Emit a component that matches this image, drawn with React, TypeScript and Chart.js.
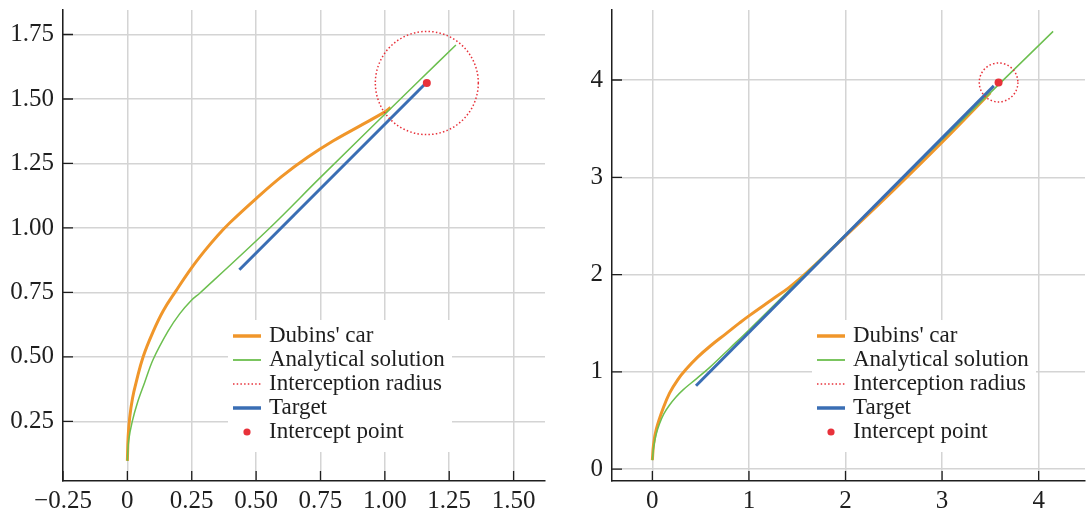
import React, { useEffect, useRef } from 'react';
import { Chart, registerables } from 'chart.js';

Chart.register(...registerables);

// ---------- Left panel data ----------
const leftDubinsX = [0, 0.003, 0.009, 0.02, 0.035, 0.061, 0.1, 0.14, 0.19, 0.25, 0.3, 0.35, 0.4, 0.5, 0.6, 0.7, 0.8, 0.9, 1.0, 1.022];
const leftDubinsY = [0.097, 0.19, 0.265, 0.34, 0.405, 0.5, 0.598, 0.68, 0.758, 0.846, 0.911, 0.97, 1.022, 1.114, 1.2, 1.274, 1.338, 1.394, 1.45, 1.467];
const leftAnalyticX = [0, 0.005, 0.019, 0.04, 0.065, 0.1, 0.158, 0.203, 0.248, 0.282, 0.553, 0.75, 1.133, 1.276];
const leftAnalyticY = [0.097, 0.175, 0.25, 0.325, 0.395, 0.49, 0.6, 0.667, 0.719, 0.748, 1.0, 1.196, 1.571, 1.709];
const leftTargetX = [0.435, 1.158];
const leftTargetY = [0.838, 1.56];
const leftInterceptX = [1.163];
const leftInterceptY = [1.562];
const leftRadius = [0.2];
const leftXTicks = [-0.25, 0, 0.25, 0.5, 0.75, 1.0, 1.25, 1.5];
const leftXLabels = ['\u22120.25', '0', '0.25', '0.50', '0.75', '1.00', '1.25', '1.50'];
const leftYTicks = [0.25, 0.5, 0.75, 1.0, 1.25, 1.5, 1.75];
const leftYLabels = ['0.25', '0.50', '0.75', '1.00', '1.25', '1.50', '1.75'];

// ---------- Right panel data ----------
const rightDubinsX = [0, 0.012, 0.041, 0.11, 0.178, 0.264, 0.349, 0.469, 0.606, 0.76, 0.9, 1.0, 1.24, 1.411, 1.548, 1.685, 1.822, 1.993, 2.5, 3.0, 3.5];
const rightDubinsY = [0.092, 0.25, 0.41, 0.62, 0.78, 0.92, 1.025, 1.15, 1.27, 1.39, 1.5, 1.575, 1.743, 1.863, 1.975, 2.1, 2.23, 2.39, 2.87, 3.36, 3.87];
const rightAnalyticX = [0, 0.014, 0.04, 0.075, 0.12, 0.178, 0.245, 0.315, 0.452, 0.6, 0.8, 1.0, 2.0, 3.0, 4.15];
const rightAnalyticY = [0.09, 0.23, 0.36, 0.469, 0.57, 0.658, 0.74, 0.812, 0.925, 1.05, 1.24, 1.43, 2.41, 3.385, 4.5];
const rightTargetX = [0.452, 3.536];
const rightTargetY = [0.856, 3.94];
const rightInterceptX = [3.585];
const rightInterceptY = [3.975];
const rightRadius = [0.2];
const rightXTicks = [0, 1, 2, 3, 4];
const rightXLabels = ['0', '1', '2', '3', '4'];
const rightYTicks = [0, 1, 2, 3, 4];
const rightYLabels = ['0', '1', '2', '3', '4'];

const legendLabels = ["Dubins' car", 'Analytical solution', 'Interception radius', 'Target', 'Intercept point'];

// ---------- Styles ----------
const ORANGE = '#f0962a';
const GREEN = '#6cbf4f';
const BLUE = '#3a6eb4';
const RED = '#e8313a';
const GRID = '#d4d4d4';
const INK = '#1e1e1e';
const SERIF = "'Liberation Serif', 'Times New Roman', serif";

const pts = (xs: number[], ys: number[]) => xs.map((x, i) => ({ x, y: ys[i] }));

const circlePlugin = {
  id: 'interceptCircle',
  afterDatasetsDraw(chart: any, _args: any, opts: any) {
    const { ctx, chartArea } = chart;
    const xs = chart.scales.x;
    const ys = chart.scales.y;
    const cx = xs.getPixelForValue(opts.cx);
    const cy = ys.getPixelForValue(opts.cy);
    const rx = Math.abs(xs.getPixelForValue(opts.cx + opts.r) - cx);
    const ry = Math.abs(ys.getPixelForValue(opts.cy + opts.r) - cy);
    ctx.save();
    ctx.beginPath();
    ctx.rect(chartArea.left, chartArea.top, chartArea.right - chartArea.left, chartArea.bottom - chartArea.top);
    ctx.clip();
    ctx.beginPath();
    ctx.ellipse(cx, cy, rx, ry, 0, 0, Math.PI * 2);
    ctx.strokeStyle = RED;
    ctx.lineWidth = 1.5;
    ctx.setLineDash([1.5, 2.2]);
    ctx.stroke();
    ctx.restore();
  },
};

const inwardTicksPlugin = {
  id: 'inwardTicks',
  afterDatasetsDraw(chart: any) {
    const { ctx, chartArea } = chart;
    const xs = chart.scales.x;
    const ys = chart.scales.y;
    ctx.save();
    ctx.strokeStyle = INK;
    ctx.lineWidth = 1.3;
    ctx.beginPath();
    xs.ticks.forEach((t: any) => {
      const p = xs.getPixelForValue(t.value);
      ctx.moveTo(p, chartArea.bottom);
      ctx.lineTo(p, chartArea.bottom - 10);
    });
    ys.ticks.forEach((t: any) => {
      const p = ys.getPixelForValue(t.value);
      ctx.moveTo(chartArea.left, p);
      ctx.lineTo(chartArea.left + 10, p);
    });
    ctx.stroke();
    ctx.restore();
  },
};

const boxLegendPlugin = {
  id: 'boxLegend',
  afterDraw(chart: any, _args: any, opts: any) {
    const { ctx } = chart;
    const { x, y, w, h, row } = opts;
    ctx.save();
    ctx.fillStyle = '#ffffff';
    ctx.fillRect(x, y, w, h);
    chart.data.datasets.forEach((ds: any, i: number) => {
      const cy = y + 16 + i * row;
      if (ds.legendKind === 'dot') {
        ctx.beginPath();
        ctx.arc(x + 19, cy, 3.6, 0, Math.PI * 2);
        ctx.fillStyle = ds.backgroundColor;
        ctx.fill();
      } else {
        ctx.beginPath();
        ctx.setLineDash(ds.legendDash || []);
        ctx.moveTo(x + 5, cy);
        ctx.lineTo(x + 33, cy);
        ctx.strokeStyle = ds.borderColor;
        ctx.lineWidth = ds.legendWidth;
        ctx.stroke();
        ctx.setLineDash([]);
      }
      ctx.fillStyle = INK;
      ctx.font = `23px ${SERIF}`;
      ctx.textAlign = 'left';
      ctx.textBaseline = 'middle';
      ctx.fillText(ds.label, x + 41, cy);
    });
    ctx.restore();
  },
};

type PanelSpec = {
  dubinsX: number[]; dubinsY: number[];
  analyticX: number[]; analyticY: number[];
  targetX: number[]; targetY: number[];
  interceptX: number[]; interceptY: number[];
  radius: number[];
  xMin: number; xMax: number; yMin: number; yMax: number;
  xTicks: number[]; xLabels: string[]; yTicks: number[]; yLabels: string[];
  yAxisWidth: number; padRight: number; legendX: number;
};

function makeConfig(p: PanelSpec): any {
  const datasets: any[] = [
    {
      type: 'line', label: legendLabels[0], data: pts(p.dubinsX, p.dubinsY),
      borderColor: ORANGE, borderWidth: 3, legendWidth: 3.5, pointRadius: 0,
      tension: 0.4, fill: false, order: 5,
    },
    {
      type: 'line', label: legendLabels[1], data: pts(p.analyticX, p.analyticY),
      borderColor: GREEN, borderWidth: 1.5, legendWidth: 1.8, pointRadius: 0,
      tension: 0.35, fill: false, order: 4,
    },
    {
      type: 'line', label: legendLabels[2], data: [],
      borderColor: RED, borderWidth: 1.5, legendWidth: 1.5, legendDash: [1.5, 2.2], pointRadius: 0, order: 3,
    },
    {
      type: 'line', label: legendLabels[3], data: pts(p.targetX, p.targetY),
      borderColor: BLUE, borderWidth: 3, legendWidth: 3.5, pointRadius: 0, fill: false, order: 2,
    },
    {
      type: 'scatter', label: legendLabels[4], data: pts(p.interceptX, p.interceptY),
      backgroundColor: RED, borderColor: RED, borderWidth: 0, pointRadius: 4, legendKind: 'dot', order: 1,
    },
  ];
  const tickFont = { family: SERIF, size: 25 };
  return {
    type: 'line',
    data: { datasets },
    options: {
      responsive: false,
      animation: false,
      events: [],
      layout: { padding: { top: 10, right: p.padRight, left: 0, bottom: 0 } },
      plugins: {
        legend: { display: false },
        tooltip: { enabled: false },
        interceptCircle: { cx: p.interceptX[0], cy: p.interceptY[0], r: p.radius[0] },
        boxLegend: { x: p.legendX, y: 320, w: 224, h: 132, row: 24 },
      },
      scales: {
        x: {
          type: 'linear', min: p.xMin, max: p.xMax,
          afterBuildTicks: (s: any) => { s.ticks = p.xTicks.map((v) => ({ value: v })); },
          afterFit: (s: any) => { s.height = 37; s.paddingLeft = 0; s.paddingRight = 0; },
          ticks: {
            autoSkip: false, maxRotation: 0, padding: 5, color: INK, font: tickFont,
            callback: (v: number) => p.xLabels[p.xTicks.indexOf(v)] ?? '',
          },
          grid: { color: GRID, lineWidth: 1.5, drawTicks: false },
          border: { display: true, color: INK, width: 1.5 },
        },
        y: {
          type: 'linear', min: p.yMin, max: p.yMax,
          afterBuildTicks: (s: any) => { s.ticks = p.yTicks.map((v) => ({ value: v })); },
          afterFit: (s: any) => { s.width = p.yAxisWidth; s.paddingTop = 0; s.paddingBottom = 0; },
          ticks: {
            autoSkip: false, padding: 9, color: INK, font: tickFont,
            callback: (v: number) => p.yLabels[p.yTicks.indexOf(v)] ?? '',
          },
          grid: { color: GRID, lineWidth: 1.5, drawTicks: false },
          border: { display: true, color: INK, width: 1.5 },
        },
      },
    },
    plugins: [circlePlugin, inwardTicksPlugin, boxLegendPlugin],
  };
}

function Panel({ spec, left, width }: { spec: PanelSpec; left: number; width: number }) {
  const ref = useRef<HTMLCanvasElement>(null);
  useEffect(() => {
    const chart = new Chart(ref.current as HTMLCanvasElement, makeConfig(spec));
    return () => chart.destroy();
  }, []);
  return (
    <canvas
      ref={ref}
      width={width}
      height={518}
      style={{ position: 'absolute', left, top: 0, width, height: 518 }}
    />
  );
}

const leftSpec: PanelSpec = {
  dubinsX: leftDubinsX, dubinsY: leftDubinsY,
  analyticX: leftAnalyticX, analyticY: leftAnalyticY,
  targetX: leftTargetX, targetY: leftTargetY,
  interceptX: leftInterceptX, interceptY: leftInterceptY,
  radius: leftRadius,
  xMin: -0.25, xMax: 1.622, yMin: 0.019, yMax: 1.845,
  xTicks: leftXTicks, xLabels: leftXLabels, yTicks: leftYTicks, yLabels: leftYLabels,
  yAxisWidth: 63, padRight: 5, legendX: 228,
};

const rightSpec: PanelSpec = {
  dubinsX: rightDubinsX, dubinsY: rightDubinsY,
  analyticX: rightAnalyticX, analyticY: rightAnalyticY,
  targetX: rightTargetX, targetY: rightTargetY,
  interceptX: rightInterceptX, interceptY: rightInterceptY,
  radius: rightRadius,
  xMin: -0.418, xMax: 4.48, yMin: -0.123, yMax: 4.72,
  xTicks: rightXTicks, xLabels: rightXLabels, yTicks: rightYTicks, yLabels: rightYLabels,
  yAxisWidth: 62, padRight: 0, legendX: 262,
};

export default function App() {
  return (
    <div style={{ position: 'fixed', left: 0, top: 0, width: 1089, height: 518, background: '#ffffff', overflow: 'hidden' }}>
      <Panel spec={leftSpec} left={0} width={550} />
      <Panel spec={rightSpec} left={550} width={539} />
    </div>
  );
}
